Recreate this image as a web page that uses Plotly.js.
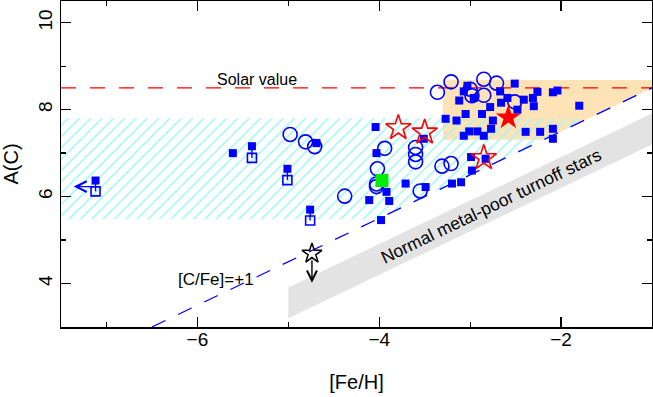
<!DOCTYPE html>
<html>
<head>
<meta charset="utf-8">
<script src="https://cdn.plot.ly/plotly-3.0.1.min.js"></script>
<style>html,body{margin:0;padding:0;background:#fff;}#plot{width:653px;height:397px;}</style>
</head>
<body>
<div id="plot"></div>
<script>
// ---- data ----
const fsqX = [-2.51,-3.07,-3.03,-2.96,-3.12,-2.67,-2.26,-2.09,-2.04,-2.59,-2.41,-2.31,-2.30,-2.48,-2.66,-2.78,-3.05,-2.87,-3.27,-3.15,-2.75,-1.80,-3.07,-3.01,-2.92,-2.85,-2.77,-2.39,-2.23,-2.09,-2.09,-4.04,-4.03,-3.51,-2.99,-2.98,-2.83,-3.71,-3.92,-3.49,-3.20,-3.10,-4.11,-3.89,-3.98,-4.69,-5.61];
const fsqY = [8.60,8.42,8.55,8.27,8.21,8.42,8.41,8.40,8.44,8.27,8.23,8.27,8.08,8.00,8.16,8.06,7.90,7.90,7.79,7.75,7.75,8.09,7.40,7.50,7.50,7.40,7.56,7.49,7.49,7.56,7.33,7.60,7.00,7.33,6.91,6.60,6.87,6.30,6.11,6.22,6.30,6.33,5.92,5.90,5.46,7.23,7.00];
const pairX = [-7.12,-5.40,-5.01,-4.76];
const pairFilledY = [6.37,7.16,6.64,5.70];
const pairOpenY = [6.12,6.89,6.38,5.45];
const circX = [-4.98,-4.81,-4.71,-3.94,-4.02,-4.03,-4.03,-4.38,-3.60,-3.60,-3.60,-3.55,-3.31,-3.21,-3.36,-3.21,-3.00,-2.98,-2.85,-2.71,-2.85,-2.51];
const circY = [7.43,7.26,7.15,7.11,6.64,6.29,6.23,6.01,7.13,6.97,6.80,6.13,6.70,6.76,8.40,8.64,8.47,8.32,8.70,8.61,8.33,8.18];
const redStarX = [-3.79,-3.50,-2.85];
const redStarY = [7.58,7.48,6.89];
const redFilledStarX = [-2.58];
const redFilledStarY = [7.82];
const greenX = [-3.97];
const greenY = [6.37];
const blackStarX = [-4.74];
const blackStarY = [4.69];
const blackLimitY = [4.02];
const leftArrowFromX = [-7.10], leftArrowToX = [-7.36], leftArrowY = [6.23];

const solarValue = 8.5;
const cfeOffset = 1.0;
const xRange = [-7.5, -1.0];
const yRange = [3.0, 10.5];

const orangeX = [-3.3, -2.19, -1.0, -1.0, -3.3];
const orangeY = [7.31, 7.31, 8.5, 8.68, 8.68];
const hatchX = [-7.5, -4.02, -1.7, -7.5];
const hatchY = [5.48, 5.48, 7.8, 7.8];
const bandX = [-5.0, -1.0, -1.0, -5.0];
const bandY = [3.2, 7.2, 7.91, 3.91];

const lineCfeX = [-6.5, -1.0];
const lineCfeY = lineCfeX.map(v => v + solarValue + cfeOffset);

// pair segments
const segX = [], segY = [];
pairX.forEach((x, i) => { segX.push(x, x, null); segY.push(pairFilledY[i], pairOpenY[i], null); });

const BLUE = '#0000ff', RED = '#ff0000';
const FONT = 'Liberation Sans, Arial, sans-serif';

const traces = [
  {x: orangeX, y: orangeY, mode: 'lines', fill: 'toself', fillcolor: '#fde3b6', line: {width: 0}, hoverinfo: 'skip'},
  {x: hatchX, y: hatchY, mode: 'lines', fill: 'toself', fillcolor: 'rgba(0,0,0,0)', line: {width: 0},
   fillpattern: {shape: '/', fgcolor: '#a6f6f6', bgcolor: 'rgba(0,0,0,0)', size: 8, solidity: 0.2}, hoverinfo: 'skip'},
  {x: bandX, y: bandY, mode: 'lines', fill: 'toself', fillcolor: '#e3e3e3', line: {width: 0}, hoverinfo: 'skip'},
  {x: xRange, y: [solarValue, solarValue], mode: 'lines', line: {color: RED, width: 1.3, dash: '15px,14px'}},
  {x: lineCfeX, y: lineCfeY, mode: 'lines', line: {color: BLUE, width: 1.3, dash: '15px,14px'}},
  {x: circX, y: circY, mode: 'markers', marker: {symbol: 'circle-open', size: 14, color: BLUE, line: {width: 1.6, color: BLUE}}},
  {x: segX, y: segY, mode: 'lines', line: {color: BLUE, width: 1.4}},
  {x: pairX, y: pairOpenY, mode: 'markers', marker: {symbol: 'square-open', size: 9, color: BLUE, line: {width: 1.6, color: BLUE}}},
  {x: pairX, y: pairFilledY, mode: 'markers', marker: {symbol: 'square', size: 8, color: BLUE, line: {width: 0}}},
  {x: fsqX, y: fsqY, mode: 'markers', marker: {symbol: 'square', size: 8, color: BLUE, line: {width: 0}}},
  {x: greenX, y: greenY, mode: 'markers', marker: {symbol: 'square', size: 13, color: '#00ee00', line: {width: 0}}},
  {x: redStarX, y: redStarY, mode: 'markers', marker: {symbol: 'star-open', size: 19, color: RED, line: {width: 1.6, color: RED}}},
  {x: redFilledStarX, y: redFilledStarY, mode: 'markers', marker: {symbol: 'star', size: 19, color: RED, line: {width: 0}}},
  {x: blackStarX, y: blackStarY, mode: 'markers', marker: {symbol: 'star-open', size: 15, color: '#000', line: {width: 1.5, color: '#000'}}}
];

const axisCommon = {
  showline: true, linecolor: '#000', linewidth: 1.5, mirror: 'ticks',
  ticks: 'inside', ticklen: 10, tickwidth: 1.3, tickcolor: '#000',
  showgrid: false, zeroline: false, dtick: 2,
  minor: {ticks: 'inside', ticklen: 5, tickwidth: 1.3, tickcolor: '#000', dtick: 1, showgrid: false},
  tickfont: {family: FONT, size: 19, color: '#000'}
};

const layout = {
  width: 653, height: 397,
  margin: {l: 61, r: 1, t: 1, b: 70},
  paper_bgcolor: '#fff', plot_bgcolor: '#fff',
  showlegend: false,
  xaxis: Object.assign({}, axisCommon, {range: xRange, tick0: -6, ticklabelstandoff: -5,
    title: {text: '[Fe/H]', font: {family: FONT, size: 20, color: '#000'}, standoff: 25}}),
  yaxis: Object.assign({}, axisCommon, {range: yRange, tick0: 4, tickangle: -90, ticklabelstandoff: 0,
    title: {text: 'A(C)', font: {family: FONT, size: 20, color: '#000'}, standoff: 14}}),
  annotations: [
    {x: -5.34, y: 8.69, xref: 'x', yref: 'y', text: 'Solar value', showarrow: false, font: {family: FONT, size: 16, color: '#000'}},
    {x: -5.8, y: 4.1, xref: 'x', yref: 'y', text: '[C/Fe]=+1', showarrow: false, font: {family: FONT, size: 17, color: '#000'}},
    {x: -2.77, y: 5.79, xref: 'x', yref: 'y', text: 'Normal metal-poor turnoff stars', showarrow: false, textangle: -25.7,
     font: {family: FONT, size: 17.5, color: '#000'}},
    {x: blackStarX[0], y: blackLimitY[0], ax: blackStarX[0], ay: blackStarY[0] - 0.12, xref: 'x', yref: 'y', axref: 'x', ayref: 'y',
     text: '', showarrow: true, arrowhead: 5, arrowsize: 1.4, arrowwidth: 1.4, arrowcolor: '#000'},
    {x: leftArrowToX[0], y: leftArrowY[0], ax: leftArrowFromX[0], ay: leftArrowY[0], xref: 'x', yref: 'y', axref: 'x', ayref: 'y',
     text: '', showarrow: true, arrowhead: 5, arrowsize: 1.5, arrowwidth: 1.4, arrowcolor: BLUE}
  ]
};

Plotly.newPlot('plot', traces, layout, {staticPlot: true});
</script>
</body>
</html>
